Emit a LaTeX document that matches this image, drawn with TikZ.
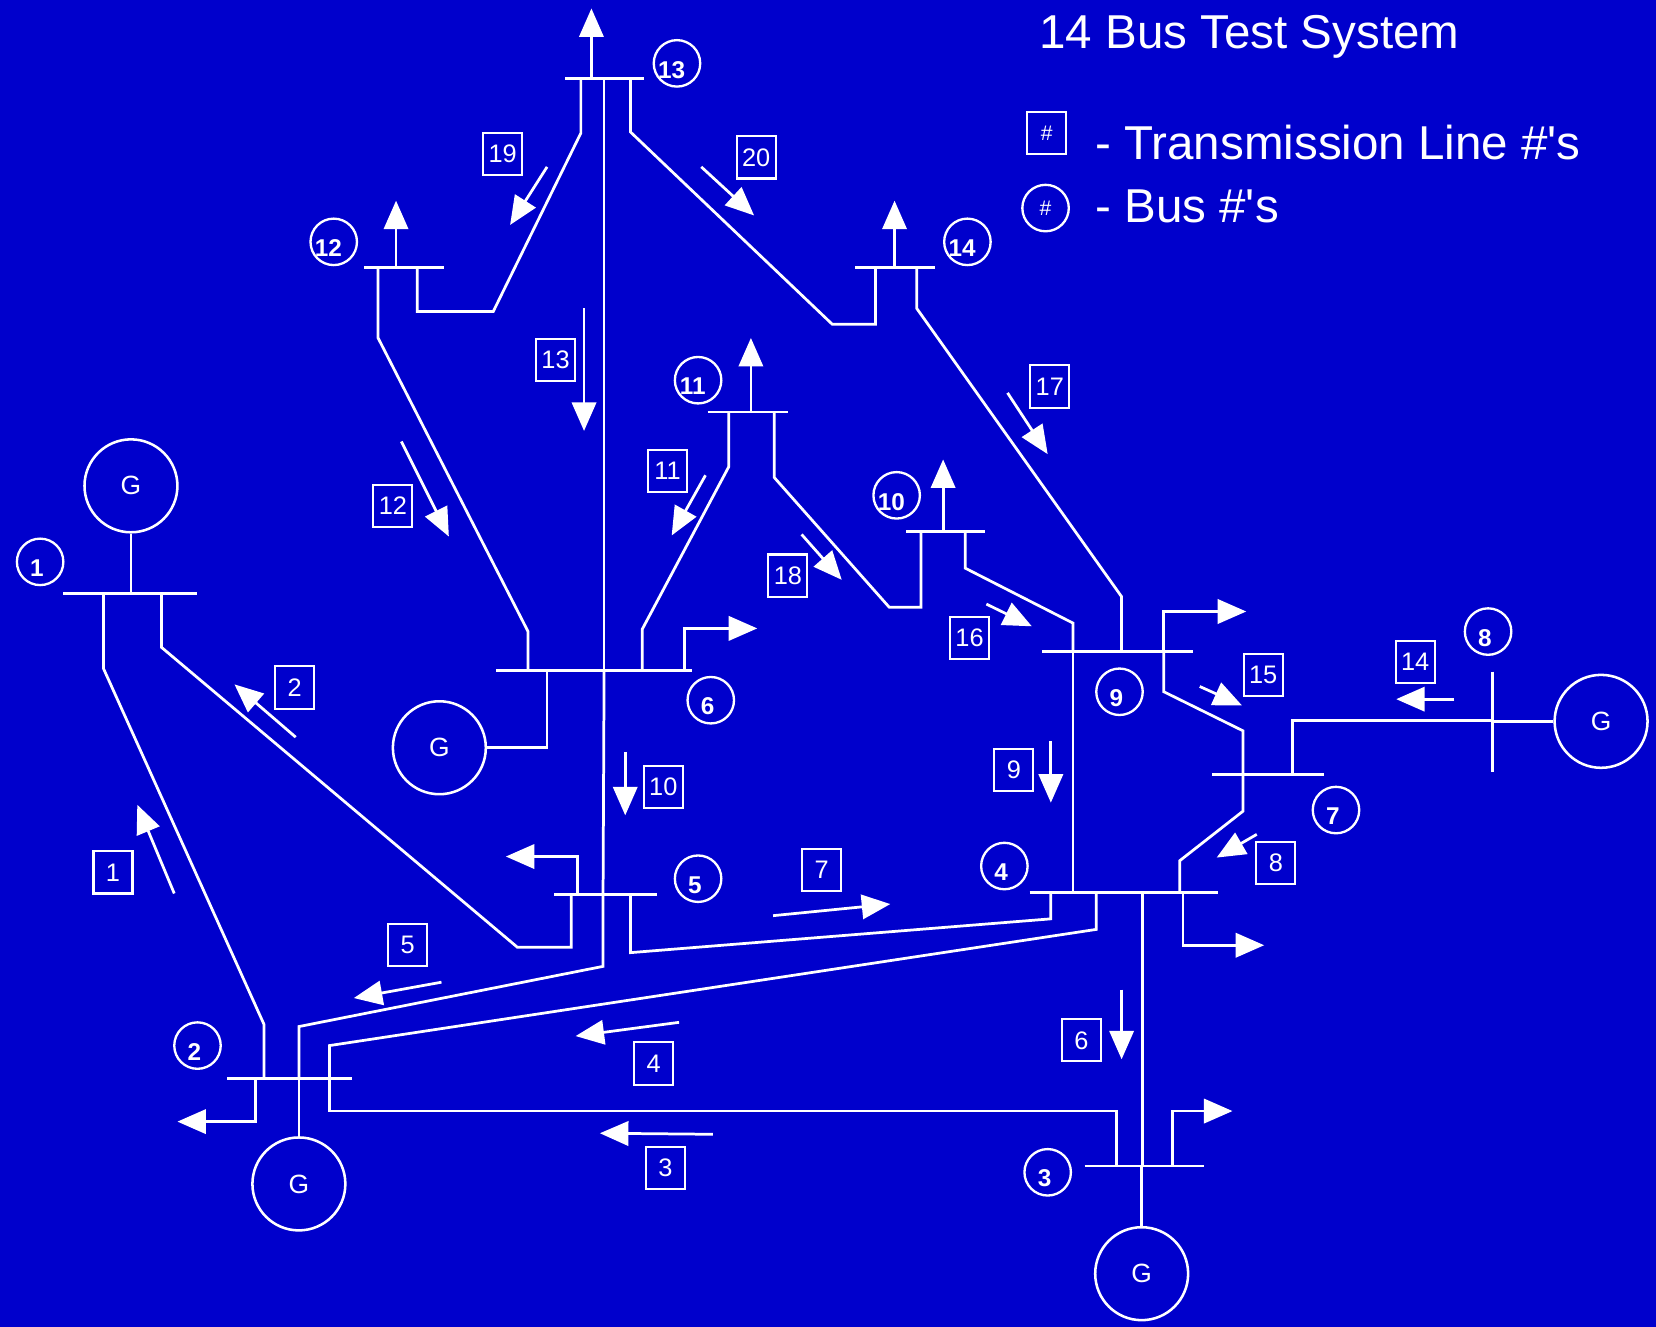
\documentclass[tikz,border=0pt]{standalone}
\usepackage{fontspec}
\setmainfont{Liberation Sans}[Ligatures=TeXOff]
\usetikzlibrary{arrows.meta}
\definecolor{bgblue}{RGB}{0,0,204}
\begin{document}
\begin{tikzpicture}[x=1pt,y=-1pt,
  wire/.style={white,line width=2.6pt},
  flow/.style={white,line width=2.6pt,-{Triangle[length=27pt,width=23pt]}},
  linebox/.style={draw=white,line width=2pt,minimum width=37pt,minimum height=40pt,inner sep=0pt,text=white,font=\fontsize{24}{24}\selectfont},
  busno/.style={circle,draw=white,line width=2.2pt,minimum size=44pt,inner sep=0pt},
  bustxt/.style={text=white,font=\bfseries\fontsize{23}{23}\selectfont},
  gen/.style={circle,draw=white,line width=2.4pt,minimum size=88pt,inner sep=0pt,text=white,font=\fontsize{25}{25}\selectfont},
  bigtxt/.style={text=white,font=\fontsize{45}{50}\selectfont,inner sep=0pt,anchor=base west},
]
\fill[bgblue] (0,0) rectangle (1568,1256);
\useasboundingbox (0,0) rectangle (1568,1256);

% ---------- title and legend ----------
\node[bigtxt] (title) at (984,46) {14 Bus Test System};
\node[linebox,font=\fontsize{20}{20}\selectfont] (legbox) at (991,126) {\#};
\node[busno,text=white,font=\fontsize{20}{20}\selectfont] (legcirc) at (990,197) {\#};
\node[bigtxt] (legA) at (1037,151) {- Transmission Line \#'s};
\node[bigtxt] (legB) at (1037,211) {- Bus \#'s};

% ---------- bus bars ----------
\coordinate (b1l) at (60,562);   \coordinate (b1r) at (187,562);
\coordinate (b2l) at (215,1021); \coordinate (b2r) at (333,1021);
\coordinate (b3l) at (1027,1104);\coordinate (b3r) at (1140,1104);
\coordinate (b4l) at (975,845);  \coordinate (b4r) at (1153,845);
\coordinate (b5l) at (525,847);  \coordinate (b5r) at (622,847);
\coordinate (b6l) at (470,635);  \coordinate (b6r) at (655,635);
\coordinate (b7l) at (1148,733); \coordinate (b7r) at (1254,733);
\coordinate (b8t) at (1413,636); \coordinate (b8b) at (1413,731);
\coordinate (b9l) at (987,617);  \coordinate (b9r) at (1130,617);
\coordinate (b10l) at (858,503); \coordinate (b10r) at (933,503);
\coordinate (b11l) at (670,390); \coordinate (b11r) at (746,390);
\coordinate (b12l) at (345,253); \coordinate (b12r) at (420,253);
\coordinate (b13l) at (535,74);  \coordinate (b13r) at (610,74);
\coordinate (b14l) at (810,253); \coordinate (b14r) at (885,253);
\foreach \a/\b in {b1l/b1r,b2l/b2r,b3l/b3r,b4l/b4r,b5l/b5r,b6l/b6r,b7l/b7r,b8t/b8b,b9l/b9r,b10l/b10r,b11l/b11r,b12l/b12r,b13l/b13r,b14l/b14r}
  \draw[wire] (\a) -- (\b);

% ---------- bus numbers ----------
\foreach \n/\x/\y/\dx in {1/38/532/-3,2/187/990/-3,3/992/1110/-3,4/951/820/-3,5/661/832/-3,6/673/663/-3,7/1265/767/-3,8/1409/598/-3,9/1060/655/-3,10/849/469/-5,11/661/360/-5,12/316/229/-5,13/641/60/-5,14/916/229/-5}
  \node[busno,label={[bustxt,xshift=\dx pt,yshift=-6pt]center:\n}] (bus\n) at (\x,\y) {};

% ---------- generators ----------
\node[gen] (g1) at (124,460) {\raisebox{-3pt}{G}};
\node[gen] (g2) at (283,1121) {\raisebox{-3pt}{G}};
\node[gen] (g3) at (1081,1206) {\raisebox{-3pt}{G}};
\node[gen] (g6) at (416,708) {\raisebox{-3pt}{G}};
\node[gen] (g8) at (1516,683) {\raisebox{-3pt}{G}};
\coordinate (b1g) at (124,562);
\coordinate (b2g) at (283,1021);
\coordinate (b3g) at (1081,1104);
\coordinate (b6g) at (518,635);
\coordinate (b8g) at (1413,683);
\draw[wire] (g1.south) -- (b1g);
\draw[wire] (g2.north) -- (b2g);
\draw[wire] (g3.north) -- (b3g);
\draw[wire] (g6.east) -| (b6g);
\draw[wire] (g8.west) -- (b8g);

% ---------- transmission lines ----------
% line 1 : bus 1 - bus 2
\coordinate (t1a) at (98,562);  \coordinate (t1b) at (250,1021);
\draw[wire] (t1a) -- (98,633) -- (250,970) -- (t1b);
% line 2 : bus 1 - bus 5
\coordinate (t2a) at (153,562); \coordinate (t2b) at (541,847);
\draw[wire] (t2a) -- (153,613) -- (490,897) -- (541,897) -- (t2b);
% line 3 : bus 2 - bus 3
\coordinate (t3a) at (312,1021); \coordinate (t3b) at (1057,1104);
\draw[wire] (t3a) -- (312,1052) -- (1057,1052) -- (t3b);
% line 4 : bus 2 - bus 4
\coordinate (t4b) at (1038,845);
\draw[wire] (t3a) -- (312,990) -- (1038,880) -- (t4b);
% line 5 : bus 2 - bus 5
\coordinate (t5b) at (571,847);
\draw[wire] (b2g) -- (283,972) -- (571,915) -- (t5b);
% line 6 : bus 4 - bus 3
\coordinate (t6a) at (1082,845); \coordinate (t6b) at (1082,1104);
\draw[wire] (t6a) -- (t6b);
% line 7 : bus 5 - bus 4
\coordinate (t7a) at (597,847); \coordinate (t7b) at (995,845);
\draw[wire] (t7a) -- (597,902) -- (995,870) -- (t7b);
% line 8 : bus 7 - bus 4
\coordinate (t8a) at (1177,733); \coordinate (t8b) at (1117,845);
\draw[wire] (t8a) -- (1177,768) -- (1117,815) -- (t8b);
% line 9 : bus 9 - bus 4
\coordinate (t9a) at (1016,617); \coordinate (t9b) at (1016,845);
\draw[wire] (t9a) -- (t9b);
% line 10 : bus 6 - bus 5
\coordinate (t10a) at (572,635);
\draw[wire] (t10a) -- (t5b);
% line 11 : bus 6 - bus 11
\coordinate (t11a) at (608,635); \coordinate (t11b) at (690,390);
\draw[wire] (t11a) -- (608,596) -- (690,442) -- (t11b);
% line 12 : bus 6 - bus 12
\coordinate (t12a) at (500,635); \coordinate (t12b) at (358,253);
\draw[wire] (t12a) -- (500,598) -- (358,320) -- (t12b);
% line 13 : bus 13 - bus 6
\coordinate (t13a) at (572,74);
\draw[wire] (t13a) -- (t10a);
% line 14 : bus 7 - bus 8
\coordinate (t14a) at (1224,733); \coordinate (t14b) at (1413,682);
\draw[wire] (t14a) -- (1224,682) -- (t14b);
% line 15 : bus 9 - bus 7
\coordinate (t15a) at (1102,617);
\draw[wire] (t15a) -- (1102,655) -- (1177,692) -- (t8a);
% line 16 : bus 10 - bus 9
\coordinate (t16a) at (914,503);
\draw[wire] (t16a) -- (914,538) -- (1016,590) -- (t9a);
% line 17 : bus 14 - bus 9
\coordinate (t17a) at (868,253); \coordinate (t17b) at (1062,617);
\draw[wire] (t17a) -- (868,292) -- (1062,565) -- (t17b);
% line 18 : bus 11 - bus 10
\coordinate (t18a) at (733,390); \coordinate (t18b) at (872,503);
\draw[wire] (t18a) -- (733,452) -- (842,575) -- (872,575) -- (t18b);
% line 19 : bus 13 - bus 12
\coordinate (t19a) at (550,74); \coordinate (t19b) at (395,253);
\draw[wire] (t19a) -- (550,126) -- (467,295) -- (395,295) -- (t19b);
% line 20 : bus 13 - bus 14
\coordinate (t20a) at (597,74); \coordinate (t20b) at (829,253);
\draw[wire] (t20a) -- (597,125) -- (788,307) -- (829,307) -- (t20b);

% ---------- loads ----------
\coordinate (l2) at (242,1021);  \coordinate (l2e) at (168,1062);
\coordinate (l3) at (1110,1104); \coordinate (l3e) at (1167,1052);
\coordinate (l4) at (1120,845);  \coordinate (l4e) at (1197,895);
\coordinate (l5) at (547,847);   \coordinate (l5e) at (479,811);
\coordinate (l6) at (648,635);   \coordinate (l6e) at (717,595);
\coordinate (l9) at (1102,617);  \coordinate (l9e) at (1180,579);
\draw[flow] (l2) |- (l2e);
\draw[flow] (l3) |- (l3e);
\draw[flow] (l4) |- (l4e);
\draw[flow] (l5) |- (l5e);
\draw[flow] (l6) |- (l6e);
\draw[flow] (l9) |- (l9e);
\draw[flow] (893,503) -- (893,435);
\draw[flow] (711,390) -- (711,320);
\draw[flow] (375,253) -- (375,190);
\draw[flow] (560,74) -- (560,8);
\draw[flow] (847,253) -- (847,190);

% ---------- flow arrows and line numbers ----------
\draw[flow] (165,846) -- (130,762);   \node[linebox] (n1) at (107,826) {\raisebox{-2pt}{1}};
\draw[flow] (280,698) -- (222,648);   \node[linebox] (n2) at (279,651) {\raisebox{-2pt}{2}};
\draw[flow] (675,1074) -- (568,1073); \node[linebox] (n3) at (630,1106) {\raisebox{-2pt}{3}};
\draw[flow] (643,968) -- (545,981);   \node[linebox] (n4) at (619,1007) {\raisebox{-2pt}{4}};
\draw[flow] (418,930) -- (335,945);   \node[linebox] (n5) at (386,895) {\raisebox{-2pt}{5}};
\draw[flow] (1062,937) -- (1062,1003);\node[linebox] (n6) at (1024,985) {\raisebox{-2pt}{6}};
\draw[flow] (732,867) -- (843,856);   \node[linebox] (n7) at (778,824) {\raisebox{-2pt}{7}};
\draw[flow] (1190,790) -- (1152,812); \node[linebox] (n8) at (1208,817) {\raisebox{-2pt}{8}};
\draw[flow] (995,702) -- (995,760);   \node[linebox] (n9) at (960,729) {\raisebox{-2pt}{9}};
\draw[flow] (592,712) -- (592,772);   \node[linebox] (n10) at (628,745) {\raisebox{-2pt}{10}};
\draw[flow] (668,450) -- (636,507);   \node[linebox] (n11) at (632,446) {\raisebox{-2pt}{11}};
\draw[flow] (380,418) -- (425,508);   \node[linebox] (n12) at (372,479) {\raisebox{-2pt}{12}};
\draw[flow] (553,292) -- (553,408);   \node[linebox] (n13) at (526,341) {\raisebox{-2pt}{13}};
\draw[flow] (1377,662) -- (1322,662); \node[linebox] (n14) at (1340,627) {\raisebox{-2pt}{14}};
\draw[flow] (1136,650) -- (1176,668); \node[linebox] (n15) at (1196,639) {\raisebox{-2pt}{15}};
\draw[flow] (934,572) -- (977,593);   \node[linebox] (n16) at (918,604) {\raisebox{-2pt}{16}};
\draw[flow] (954,372) -- (992,430);   \node[linebox] (n17) at (994,366) {\raisebox{-2pt}{17}};
\draw[flow] (759,506) -- (797,549);   \node[linebox] (n18) at (746,545) {\raisebox{-2pt}{18}};
\draw[flow] (518,158) -- (483,213);   \node[linebox] (n19) at (476,146) {\raisebox{-2pt}{19}};
\draw[flow] (664,158) -- (714,204);   \node[linebox] (n20) at (716,149) {\raisebox{-2pt}{20}};
\end{tikzpicture}
\end{document}
